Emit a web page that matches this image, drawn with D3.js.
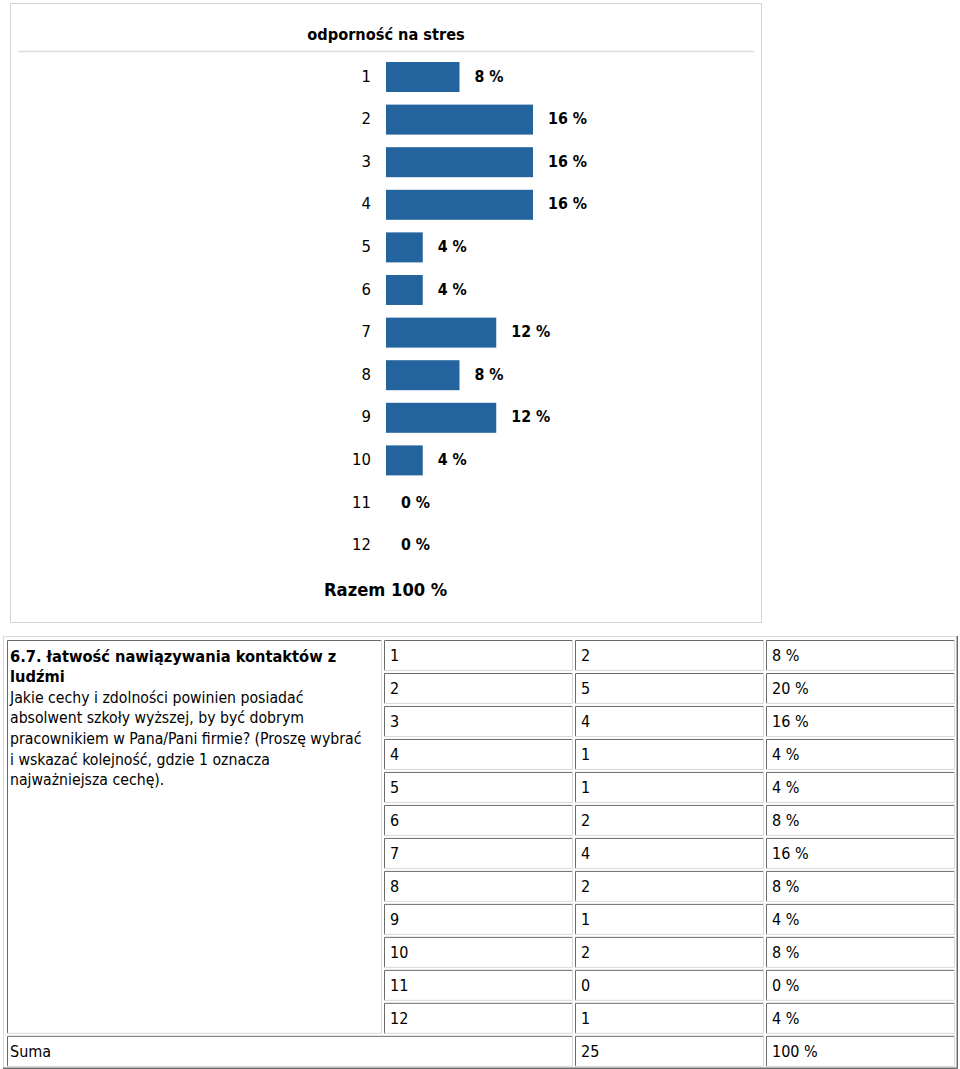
<!DOCTYPE html>
<html><head><meta charset="utf-8">
<script src="https://cdn.jsdelivr.net/npm/d3@7"></script>
<style>
html,body{margin:0;padding:0;background:#fff;}
svg text{font-family:"DejaVu Sans Condensed","DejaVu Sans",Verdana,sans-serif;}
</style></head>
<body>
<svg id="c" width="960" height="1069"></svg>
<script>
// ---- data ----
const chartTitle = "odporność na stres";
const categories = ["1","2","3","4","5","6","7","8","9","10","11","12"];
const chartPercents = [8,16,16,16,4,4,12,8,12,4,0,0];
const totalLabel = "Razem 100 %";

const questionTitle = ["6.7. łatwość nawiązywania kontaktów z","ludźmi"];
const questionText = ["Jakie cechy i zdolności powinien posiadać",
  "absolwent szkoły wyższej, by być dobrym",
  "pracownikiem w Pana/Pani firmie? (Proszę wybrać",
  "i wskazać kolejność, gdzie 1 oznacza",
  "najważniejsza cechę)."];
const tableCounts = [2,5,4,1,1,2,4,2,1,2,0,1];
const tablePercents = [8,20,16,4,4,8,16,8,4,8,0,4];
const sumLabel = "Suma";
const sumCount = 25;
const sumPercent = 100;

const svg = d3.select("#c");
const barColor = "#23649f";
const ink = "#000";

// ---- top panel ----
svg.append("rect").attr("x",10.5).attr("y",3.5).attr("width",751).attr("height",619)
  .attr("fill","#fff").attr("stroke","#d4d4d4");
svg.append("line").attr("x1",18).attr("x2",754).attr("y1",51.5).attr("y2",51.5)
  .attr("stroke","#dcdcdc").attr("stroke-width",1.5);
svg.append("text").attr("x",386).attr("y",35).attr("text-anchor","middle")
  .attr("dominant-baseline","middle").attr("font-weight","bold").attr("font-size",16.2)
  .attr("fill",ink).text(chartTitle);

const x = d3.scaleLinear().domain([0,16]).range([386,533]);
const pad = 12.6/42.6;
const y = d3.scaleBand().domain(categories).range([55.7,55.7+12*42.6])
  .paddingInner(pad).paddingOuter(pad/2);

const rows = svg.append("g").selectAll("g").data(categories).join("g");
rows.append("rect").attr("x",x(0)).attr("y",d=>y(d))
  .attr("width",(d,i)=>x(chartPercents[i])-x(0)).attr("height",y.bandwidth())
  .attr("fill",barColor);
rows.append("text").attr("x",371).attr("y",d=>y(d)+y.bandwidth()/2)
  .attr("text-anchor","end").attr("dominant-baseline","middle").attr("font-size",16.5)
  .attr("fill",ink).text(d=>d);
rows.append("text").attr("x",(d,i)=>x(chartPercents[i])+15).attr("y",d=>y(d)+y.bandwidth()/2)
  .attr("dominant-baseline","middle").attr("font-size",15.8).attr("font-weight","bold")
  .attr("fill",ink).text((d,i)=>chartPercents[i]+" %");
svg.append("text").attr("x",324).attr("y",591).attr("dominant-baseline","middle")
  .attr("font-size",18.2).attr("font-weight","bold").attr("fill",ink).text(totalLabel);

// ---- bottom table ----
const dark = "#6a6a6a", light = "#d8d8d8";
function bevel(x0,y0,w,h,inset){
  const g = svg.append("g");
  const tl = inset?dark:light, br = inset?light:dark;
  g.append("rect").attr("x",x0).attr("y",y0).attr("width",w).attr("height",h).attr("fill","#fff");
  g.append("path").attr("d",`M${x0+0.5},${y0+h}V${y0+0.5}H${x0+w}`).attr("stroke",tl).attr("fill","none");
  g.append("path").attr("d",`M${x0+w-0.5},${y0}V${y0+h-0.5}H${x0}`).attr("stroke",br).attr("fill","none");
}
// outer table
bevel(3,636,955,433,false);
svg.append("path").attr("d","M957,636V1068H3").attr("stroke",dark).attr("fill","none").attr("stroke-width",1);

const rowKeys = categories.concat([sumLabel]);
const ty = d3.scaleBand().domain(rowKeys).range([640,640+13*32.83]).paddingInner(2/32.83).paddingOuter(0);
const cols = [384,575,766];
const colW = [189,189,189];
const cellH = ty.bandwidth();

// question cell (spans 12 rows)
bevel(7,640,375,ty(categories[11])+cellH-640,true);
questionTitle.forEach((t,i)=>{
  svg.append("text").attr("x",10).attr("y",657+i*20.7).attr("dominant-baseline","middle")
    .attr("font-size",16.3).attr("font-weight","bold").attr("fill",ink).text(t);
});
questionText.forEach((t,i)=>{
  svg.append("text").attr("x",10).attr("y",698+i*20.7).attr("dominant-baseline","middle")
    .attr("font-size",15.7).attr("fill",ink).text(t);
});

categories.forEach((c,i)=>{
  const vals = [c, String(tableCounts[i]), tablePercents[i]+" %"];
  vals.forEach((v,j)=>{
    bevel(cols[j],ty(c),colW[j],cellH,true);
    svg.append("text").attr("x",cols[j]+6).attr("y",ty(c)+cellH/2+1)
      .attr("dominant-baseline","middle").attr("font-size",16).attr("fill",ink).text(v);
  });
});
// sum row
bevel(7,ty(sumLabel),566,cellH,true);
svg.append("text").attr("x",10).attr("y",ty(sumLabel)+cellH/2+1).attr("dominant-baseline","middle")
  .attr("font-size",16).attr("fill",ink).text(sumLabel);
[[String(sumCount),1],[sumPercent+" %",2]].forEach(([v,j])=>{
  bevel(cols[j],ty(sumLabel),colW[j],cellH,true);
  svg.append("text").attr("x",cols[j]+6).attr("y",ty(sumLabel)+cellH/2+1)
    .attr("dominant-baseline","middle").attr("font-size",16).attr("fill",ink).text(v);
});
</script>
</body></html>
